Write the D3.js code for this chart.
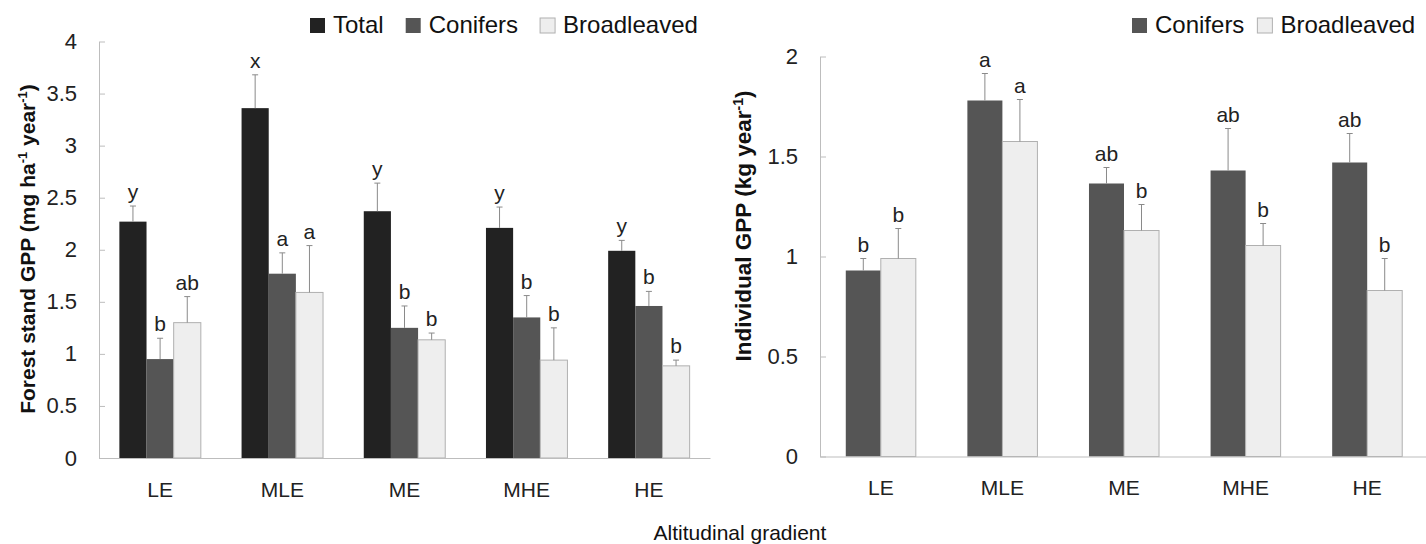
<!DOCTYPE html>
<html>
<head>
<meta charset="utf-8">
<script src="https://cdn.jsdelivr.net/npm/d3@7"></script>
<style>
  html, body { margin: 0; padding: 0; background: #fff; }
  svg { display: block; font-family: "Liberation Sans", Arial, sans-serif; }
</style>
</head>
<body>
<svg id="chart" width="1426" height="544"></svg>
<script>
// Altitude classes
const categories = ["LE", "MLE", "ME", "MHE", "HE"];

// Forest stand GPP (mg ha-1 year-1)
const standTotal = [2.27, 3.36, 2.37, 2.21, 1.99];
const standTotalErr = [0.15, 0.32, 0.27, 0.20, 0.10];
const standTotalLetters = ["y", "x", "y", "y", "y"];
const standConifers = [0.95, 1.77, 1.25, 1.35, 1.46];
const standConifersErr = [0.20, 0.20, 0.21, 0.21, 0.14];
const standConifersLetters = ["b", "a", "b", "b", "b"];
const standBroad = [1.30, 1.59, 1.135, 0.94, 0.885];
const standBroadErr = [0.25, 0.45, 0.065, 0.31, 0.055];
const standBroadLetters = ["ab", "a", "b", "b", "b"];

// Individual GPP (kg year-1)
const indConifers = [0.93, 1.78, 1.365, 1.43, 1.47];
const indConifersErr = [0.06, 0.135, 0.08, 0.21, 0.145];
const indConifersLetters = ["b", "a", "ab", "ab", "ab"];
const indBroad = [0.99, 1.575, 1.13, 1.055, 0.83];
const indBroadErr = [0.15, 0.21, 0.13, 0.11, 0.16];
const indBroadLetters = ["b", "a", "b", "b", "b"];

const standTicks = [0, 0.5, 1, 1.5, 2, 2.5, 3, 3.5, 4];
const indTicks = [0, 0.5, 1, 1.5, 2];

const seriesStyle = {
  Total: { fill: "#222222", stroke: "none" },
  Conifers: { fill: "#555555", stroke: "none" },
  Broadleaved: { fill: "#eeeeee", stroke: "#b0b0b0" }
};

const svg = d3.select("#chart");
const axisColor = "#bdbdbd";
const errColor = "#8a8a8a";

function buildSeries(names, values, errs, letters) {
  return names.map((n, i) => ({ name: n, values: values[i], errs: errs[i], letters: letters[i] }));
}

function drawPanel(cfg) {
  const g = svg.append("g");
  const x0 = d3.scaleBand().domain(categories).range(cfg.xRange)
    .paddingInner(cfg.padInner).paddingOuter(cfg.padInner / 2);
  const x1 = d3.scaleBand().domain(cfg.series.map(s => s.name)).range([0, x0.bandwidth()]);
  const y = d3.scaleLinear().domain(cfg.yDomain).range(cfg.yRange);

  // y axis: inside ticks, no outer tick
  const yAxis = g.append("g")
    .attr("transform", `translate(${cfg.xRange[0]},0)`)
    .call(d3.axisLeft(y).tickValues(cfg.ticks).tickFormat(d3.format("")).tickSizeInner(-6).tickSizeOuter(0).tickPadding(22));
  yAxis.select(".domain").attr("stroke", axisColor);
  yAxis.selectAll(".tick line").attr("stroke", axisColor);
  yAxis.selectAll(".tick text").attr("fill", "#222").style("font-size", "22px");

  // bars
  cfg.series.forEach(s => {
    const st = seriesStyle[s.name];
    const grp = g.append("g");
    categories.forEach((c, i) => {
      const bx = x0(c) + x1(s.name);
      const bw = x1.bandwidth();
      const v = s.values[i];
      const top = y(v + s.errs[i]);
      grp.append("rect")
        .attr("x", bx).attr("y", y(v))
        .attr("width", bw).attr("height", y(0) - y(v))
        .attr("fill", st.fill)
        .attr("stroke", st.stroke).attr("stroke-width", 1);
      const cx = bx + bw / 2;
      grp.append("line").attr("x1", cx).attr("x2", cx)
        .attr("y1", y(v)).attr("y2", top)
        .attr("stroke", errColor).attr("stroke-width", 1);
      grp.append("line").attr("x1", cx - 3).attr("x2", cx + 3)
        .attr("y1", top).attr("y2", top)
        .attr("stroke", errColor).attr("stroke-width", 1);
      grp.append("text")
        .attr("x", cx).attr("y", top - 7)
        .attr("text-anchor", "middle")
        .style("font-size", "21px").attr("fill", "#222")
        .text(s.letters[i]);
    });
  });

  // x axis
  const xAxis = g.append("g")
    .attr("transform", `translate(0,${cfg.yRange[0]})`)
    .call(d3.axisBottom(x0).tickSize(0).tickPadding(24).tickSizeOuter(0));
  xAxis.select(".domain").attr("stroke", axisColor);
  xAxis.selectAll(".tick text").attr("fill", "#222").style("font-size", "21px");

  // y title with superscripts
  const t = g.append("text")
    .attr("transform", `translate(${cfg.titlePos[0]},${cfg.titlePos[1]}) rotate(-90)`)
    .attr("text-anchor", "middle")
    .style("font-size", cfg.titleSize + "px").style("font-weight", "bold").attr("fill", "#111");
  cfg.title.forEach(part => {
    const ts = t.append("tspan").text(part.t);
    if (part.sup) ts.attr("dy", -8).style("font-size", Math.round(cfg.titleSize * 0.6) + "px");
    if (part.after) ts.attr("dy", 8);
  });

  // legend
  const lg = g.append("g");
  let lx = cfg.legendX;
  cfg.legend.forEach(name => {
    const st = seriesStyle[name];
    lg.append("rect").attr("x", lx).attr("y", 18).attr("width", 15).attr("height", 15)
      .attr("fill", st.fill).attr("stroke", name === "Broadleaved" ? "#b0b0b0" : "none");
    const tx = lg.append("text").attr("x", lx + 23).attr("y", 33)
      .style("font-size", "24px").attr("fill", "#111").text(name);
    lx += 23 + tx.node().getComputedTextLength() + cfg.legendGap;
  });
}

drawPanel({
  xRange: [99, 710],
  padInner: 1 / 3,
  yDomain: [0, 4],
  yRange: [458, 41.5],
  ticks: standTicks,
  series: buildSeries(["Total", "Conifers", "Broadleaved"],
    [standTotal, standConifers, standBroad],
    [standTotalErr, standConifersErr, standBroadErr],
    [standTotalLetters, standConifersLetters, standBroadLetters]),
  title: [{ t: "Forest stand GPP (mg ha" }, { t: "-1", sup: true }, { t: " year", after: true }, { t: "-1", sup: true }, { t: ")", after: true }],
  titleSize: 21,
  titlePos: [35, 249],
  legend: ["Total", "Conifers", "Broadleaved"],
  legendX: 310,
  legendGap: 22
});

drawPanel({
  xRange: [820, 1428],
  padInner: 0.424,
  yDomain: [0, 2],
  yRange: [456.5, 56.5],
  ticks: indTicks,
  series: buildSeries(["Conifers", "Broadleaved"],
    [indConifers, indBroad],
    [indConifersErr, indBroadErr],
    [indConifersLetters, indBroadLetters]),
  title: [{ t: "Individual GPP (kg year" }, { t: "-1", sup: true }, { t: ")", after: true }],
  titleSize: 22.5,
  titlePos: [751, 226],
  legend: ["Conifers", "Broadleaved"],
  legendX: 1132,
  legendGap: 13
});

svg.append("text")
  .attr("x", 740).attr("y", 540)
  .attr("text-anchor", "middle")
  .style("font-size", "21px").attr("fill", "#111")
  .text("Altitudinal gradient");
</script>
</body>
</html>
